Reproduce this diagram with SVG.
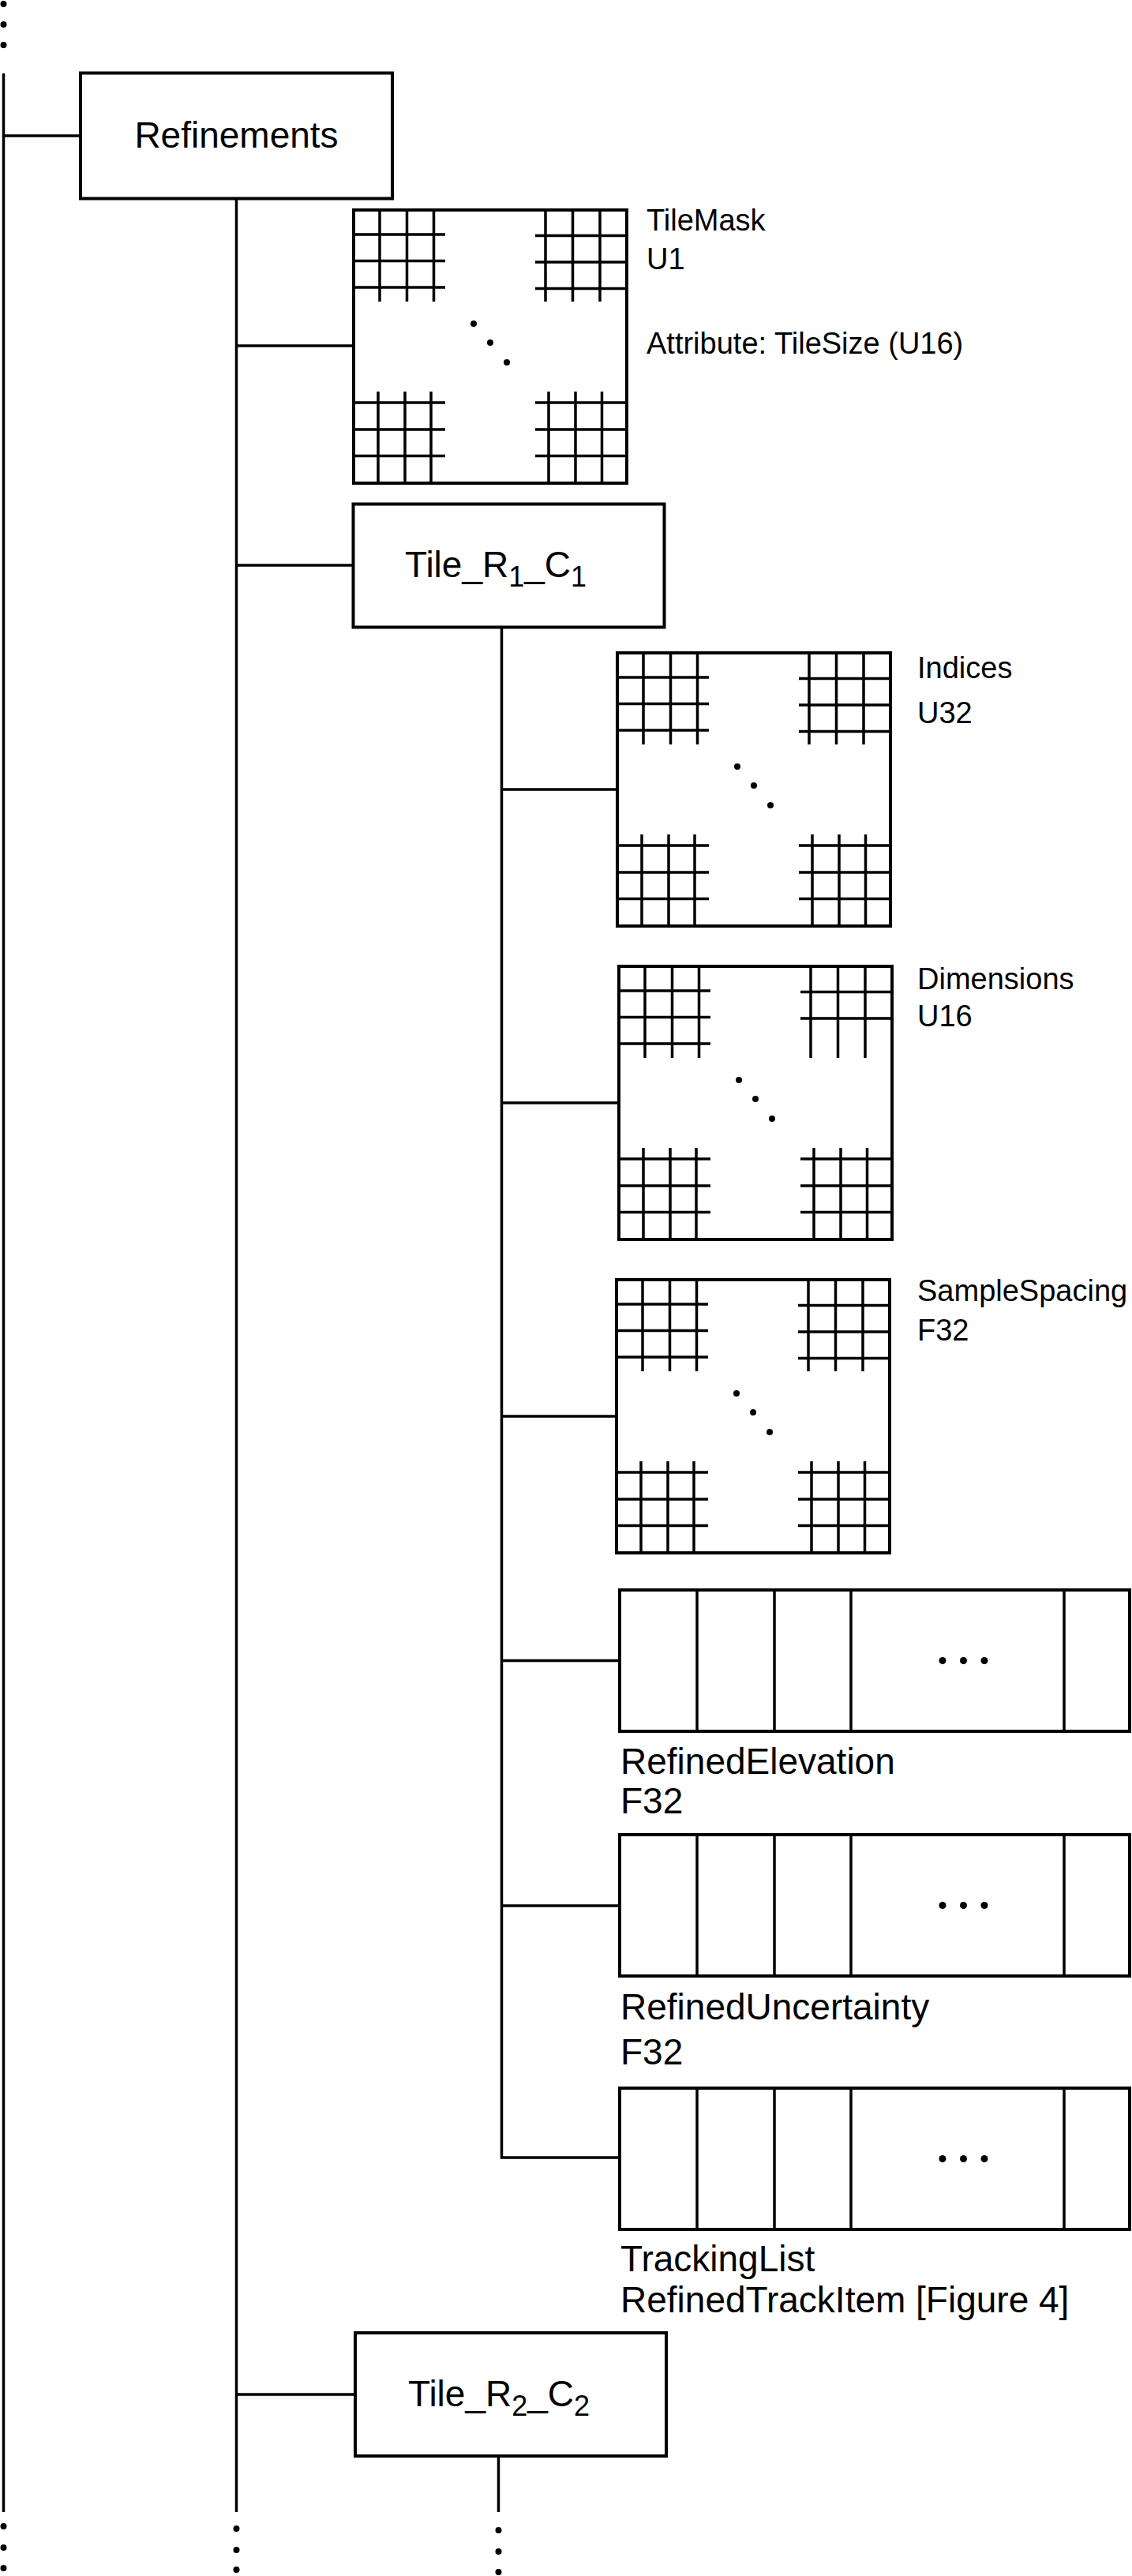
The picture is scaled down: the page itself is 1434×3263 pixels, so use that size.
<svg xmlns="http://www.w3.org/2000/svg" width="1434" height="3263" viewBox="0 0 1434 3263">
<style>
.box{fill:#fff;stroke:#000;stroke-width:4}
.ln{fill:none;stroke:#000;stroke-width:3.5}
.conn path{fill:none;stroke:#000;stroke-width:3.5}
.dot{fill:#000}
.big{font-family:"Liberation Sans",Arial,sans-serif;font-size:46px;fill:#000}
.sm{font-family:"Liberation Sans",Arial,sans-serif;font-size:38px;fill:#000}
</style>
<defs>
<g id="grid-base">
<rect class="box" x="0" y="0" width="346" height="346"/>
<path class="ln" d="M33 0V116M67.5 0V116M101.5 0V116M0 31H116M0 64.5H116M0 98H116"/>
<path class="ln" d="M31 230V346M65 230V346M98 230V346M0 244H116M0 278H116M0 311.5H116"/>
<path class="ln" d="M247 230V346M281 230V346M314.5 230V346M230 244H346M230 278H346M230 311.5H346"/>
<circle class="dot" cx="152" cy="144" r="4"/>
<circle class="dot" cx="173" cy="168" r="4"/>
<circle class="dot" cx="194" cy="193" r="4"/>
</g>
<path id="tr-full" class="ln" d="M243 0V116M277.5 0V116M312 0V116M230 32.5H346M230 66H346M230 99.5H346"/>
<path id="tr-part" class="ln" d="M243 0V116M277.5 0V116M312 0V116M230 32.5H346M230 66H346"/>
<g id="array">
<rect class="box" x="0" y="0" width="646" height="179"/>
<path class="ln" d="M98 0V179M196 0V179M293 0V179M563 0V179"/>
<circle class="dot" cx="409" cy="89.5" r="4.5"/>
<circle class="dot" cx="435.5" cy="89.5" r="4.5"/>
<circle class="dot" cx="462" cy="89.5" r="4.5"/>
</g>
</defs>
<rect x="0" y="0" width="1434" height="3263" fill="#fff"/>

<g id="connectors" class="conn">
<path d="M4.5 93V3182"/>
<path d="M4.5 172H102"/>
<path d="M299.5 251V3182"/>
<path d="M299.5 438H448"/>
<path d="M299.5 716H447.5"/>
<path d="M299.5 3033H450"/>
<path d="M635.5 794.5V2733H785"/>
<path d="M635.5 1000H782"/>
<path d="M635.5 1397H784"/>
<path d="M635.5 1794H781"/>
<path d="M635.5 2103.5H785"/>
<path d="M635.5 2414H785"/>
<path d="M631.5 3111V3182"/>
<circle class="dot" cx="4.5" cy="5" r="4"/>
<circle class="dot" cx="4.5" cy="31" r="4"/>
<circle class="dot" cx="4.5" cy="57" r="4"/>
<circle class="dot" cx="4.5" cy="3200" r="4"/>
<circle class="dot" cx="4.5" cy="3227" r="4"/>
<circle class="dot" cx="4.5" cy="3253" r="4"/>
<circle class="dot" cx="299.5" cy="3203" r="4"/>
<circle class="dot" cx="299.5" cy="3230" r="4"/>
<circle class="dot" cx="299.5" cy="3255" r="4"/>
<circle class="dot" cx="631.5" cy="3205" r="4"/>
<circle class="dot" cx="631.5" cy="3232" r="4"/>
<circle class="dot" cx="631.5" cy="3258" r="4"/>
</g>

<g id="refinements">
<rect class="box" x="102" y="92.5" width="395" height="159"/>
<text class="big" x="299.5" y="187" text-anchor="middle">Refinements</text>
</g>

<g id="tilemask">
<use href="#grid-base" transform="translate(448,266)"/>
<use href="#tr-full" transform="translate(448,266)"/>
<text class="sm" x="819" y="292">TileMask</text>
<text class="sm" x="819" y="341">U1</text>
<text class="sm" x="819" y="448">Attribute: TileSize (U16)</text>
</g>

<g id="tile-r1-c1">
<rect class="box" x="447.5" y="638.5" width="394" height="156"/>
<text class="big" x="513" y="731">Tile_R<tspan font-size="36" dy="12">1</tspan><tspan dy="-12">_C</tspan><tspan font-size="36" dy="12">1</tspan></text>
</g>

<g id="indices">
<use href="#grid-base" transform="translate(782,827)"/>
<use href="#tr-full" transform="translate(782,827)"/>
<text class="sm" x="1162" y="859">Indices</text>
<text class="sm" x="1162" y="916">U32</text>
</g>

<g id="dimensions">
<use href="#grid-base" transform="translate(784,1224)"/>
<use href="#tr-part" transform="translate(784,1224)"/>
<text class="sm" x="1162" y="1253">Dimensions</text>
<text class="sm" x="1162" y="1300">U16</text>
</g>

<g id="samplespacing">
<use href="#grid-base" transform="translate(781,1621)"/>
<use href="#tr-full" transform="translate(781,1621)"/>
<text class="sm" x="1162" y="1648">SampleSpacing</text>
<text class="sm" x="1162" y="1698">F32</text>
</g>

<g id="refined-elevation">
<use href="#array" transform="translate(785,2014)"/>
<text class="big" x="786" y="2247">RefinedElevation</text>
<text class="big" x="786" y="2297">F32</text>
</g>

<g id="refined-uncertainty">
<use href="#array" transform="translate(785,2324)"/>
<text class="big" x="786" y="2558">RefinedUncertainty</text>
<text class="big" x="786" y="2615">F32</text>
</g>

<g id="tracking-list">
<use href="#array" transform="translate(785,2645)"/>
<text class="big" x="786" y="2877">TrackingList</text>
<text class="big" x="786" y="2929">RefinedTrackItem [Figure 4]</text>
</g>

<g id="tile-r2-c2">
<rect class="box" x="450" y="2955" width="394" height="156"/>
<text class="big" x="517" y="3048">Tile_R<tspan font-size="36" dy="12">2</tspan><tspan dy="-12">_C</tspan><tspan font-size="36" dy="12">2</tspan></text>
</g>
</svg>
